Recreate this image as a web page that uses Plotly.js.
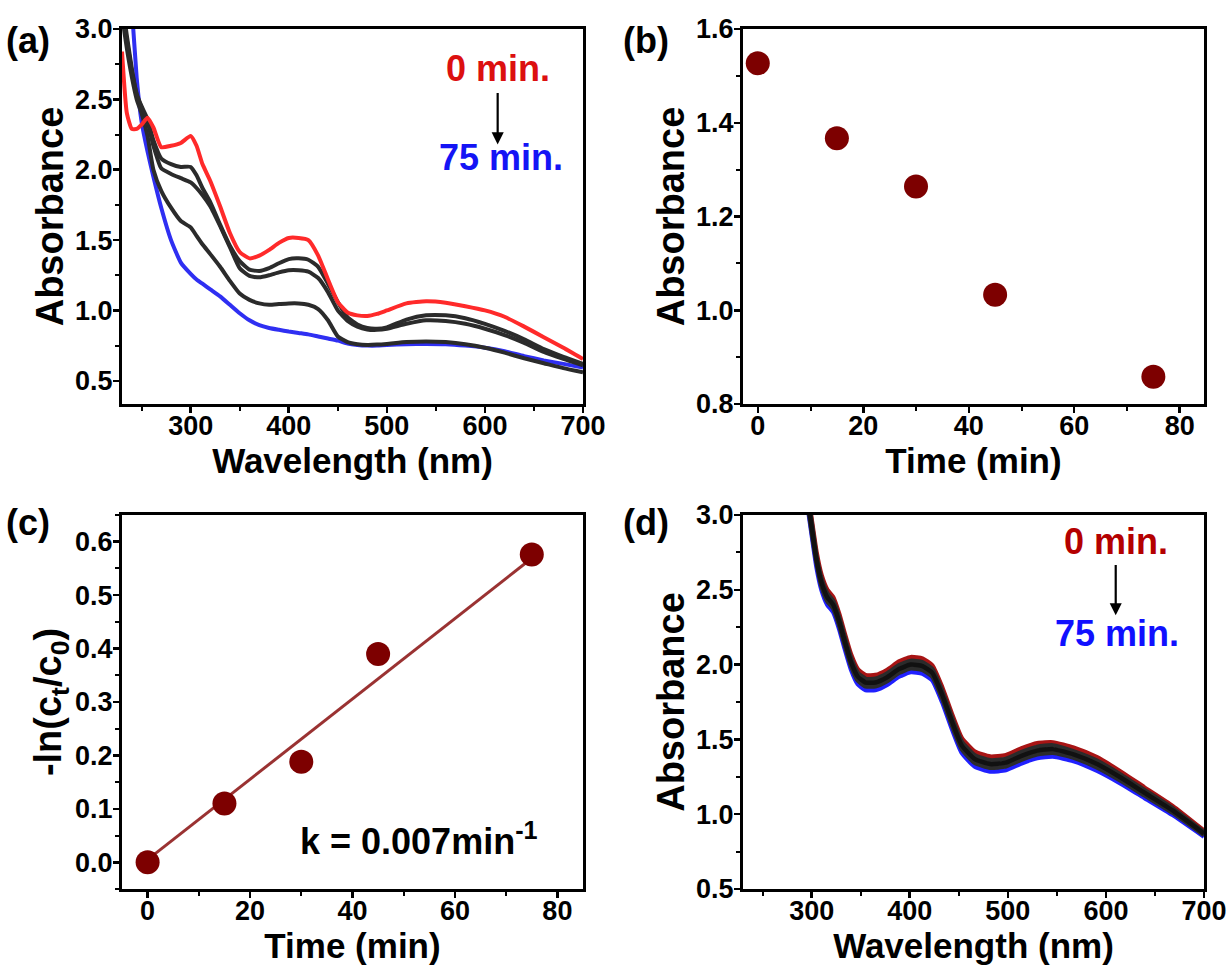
<!DOCTYPE html>
<html>
<head>
<meta charset="utf-8">
<script src="https://cdn.plot.ly/plotly-3.0.1.min.js"></script>
<style>html,body{margin:0;padding:0;background:#fff;}#chart{width:1231px;height:966px;}</style>
</head>
<body>
<div id="chart"></div>
<script>
// ---------- Panel (a): UV-vis spectra, photocatalysis ----------
const wavelengthA = [230,235,240,245,250,256,262,270,280,290,300,306,312,320,330,340,350,360,370,380,390,400,410,420,430,440,450,460,470,480,490,500,520,540,560,580,600,620,640,660,680,700];
const absA_0min  = [2.84,2.40,2.29,2.29,2.32,2.37,2.30,2.16,2.17,2.19,2.24,2.17,2.04,1.92,1.74,1.55,1.415,1.37,1.39,1.43,1.48,1.515,1.515,1.50,1.39,1.22,1.06,0.985,0.965,0.96,0.975,1.0,1.05,1.065,1.055,1.03,1.0,0.955,0.885,0.81,0.735,0.655];
const absA_15min = [3.15,2.92,2.70,2.54,2.45,2.36,2.21,2.08,2.04,2.02,2.02,1.96,1.87,1.77,1.61,1.46,1.35,1.29,1.28,1.30,1.335,1.365,1.37,1.36,1.31,1.19,1.06,0.95,0.90,0.875,0.87,0.88,0.935,0.965,0.965,0.945,0.905,0.855,0.795,0.725,0.67,0.62];
const absA_30min = [3.2,2.95,2.72,2.53,2.44,2.34,2.17,2.01,1.97,1.94,1.91,1.87,1.82,1.74,1.60,1.45,1.30,1.245,1.235,1.25,1.27,1.285,1.285,1.275,1.23,1.13,1.0,0.925,0.885,0.865,0.862,0.87,0.905,0.93,0.925,0.905,0.87,0.825,0.77,0.705,0.655,0.61];
const absA_45min = [3.1,2.86,2.66,2.50,2.40,2.24,2.0,1.85,1.73,1.635,1.59,1.53,1.47,1.40,1.31,1.21,1.12,1.075,1.05,1.04,1.045,1.05,1.05,1.04,1.01,0.93,0.815,0.775,0.76,0.755,0.757,0.762,0.775,0.78,0.775,0.76,0.735,0.70,0.66,0.625,0.59,0.56];
const absA_75min = [3.8,3.5,3.15,2.65,2.34,2.13,1.95,1.73,1.50,1.34,1.26,1.22,1.19,1.15,1.10,1.04,0.98,0.93,0.895,0.875,0.862,0.85,0.84,0.83,0.815,0.80,0.785,0.765,0.755,0.75,0.75,0.755,0.76,0.762,0.76,0.75,0.735,0.71,0.675,0.645,0.62,0.595];

// ---------- Panel (b): absorbance vs time ----------
const timeMin = [0,15,30,45,75];
const absB = [1.527,1.367,1.264,1.033,0.858];

// ---------- Panel (c): kinetics ----------
const lnRatio = [0,0.11,0.188,0.39,0.576];
const fitTime = [0,75];
const fitLn = [0.005,0.569];
const kLabel = 'k = 0.007min<sup>-1</sup>';

// ---------- Panel (d): UV-vis spectra, control ----------
const wavelengthD = [295,300,305,310,316,322,328,334,340,347,355,365,377,389,401,413,423,433,443,453,466,482,498,514,530,546,567,591,615,639,668,700];
const absD_0min  = [3.2,2.97,2.75,2.60,2.50,2.45,2.34,2.20,2.07,1.97,1.93,1.93,1.965,2.02,2.05,2.04,1.995,1.85,1.67,1.51,1.42,1.385,1.395,1.44,1.475,1.48,1.445,1.38,1.285,1.18,1.055,0.89];
const absD_15min = [3.17,2.95,2.72,2.575,2.475,2.425,2.315,2.175,2.045,1.945,1.905,1.905,1.94,1.995,2.025,2.015,1.97,1.825,1.645,1.485,1.395,1.36,1.37,1.415,1.45,1.46,1.42,1.357,1.265,1.163,1.04,0.88];
const absD_30min = [3.15,2.92,2.70,2.55,2.45,2.40,2.29,2.15,2.02,1.92,1.88,1.88,1.915,1.97,2.00,1.99,1.945,1.80,1.62,1.46,1.37,1.335,1.345,1.39,1.425,1.435,1.40,1.335,1.245,1.145,1.025,0.87];
const absD_45min = [3.12,2.89,2.68,2.525,2.425,2.375,2.265,2.125,1.995,1.895,1.855,1.855,1.89,1.945,1.975,1.965,1.92,1.775,1.595,1.435,1.345,1.31,1.32,1.365,1.40,1.41,1.378,1.313,1.225,1.127,1.01,0.86];
const absD_75min = [3.1,2.87,2.65,2.50,2.40,2.35,2.24,2.10,1.97,1.87,1.83,1.83,1.865,1.92,1.95,1.94,1.895,1.75,1.57,1.41,1.32,1.285,1.295,1.34,1.375,1.385,1.355,1.29,1.205,1.11,0.995,0.85];

// ---------- Text ----------
const panelLabels = ['(a)','(b)','(c)','(d)'];
const startLabel = '0 min.';
const endLabel = '75 min.';

const FAM = 'Liberation Sans, Arial, Helvetica, sans-serif';
const tickFont = {family: FAM, size: 27, color: '#000', weight: 'bold'};
const xTitleFont = {family: FAM, size: 35, color: '#000', weight: 'bold'};
const yTitleFont = {family: FAM, size: 38, color: '#000', weight: 'bold'};

function line(x, y, color, w, xa, ya) {
  return {type: 'scatter', mode: 'lines', x: x, y: y, xaxis: xa, yaxis: ya,
          line: {color: color, width: w, shape: 'spline', smoothing: 0.5}, hoverinfo: 'skip'};
}

const BLACK = '#2b2b2b';
const traces = [
  line(wavelengthA, absA_75min, '#2f2ff2', 4, 'x', 'y'),
  line(wavelengthA, absA_45min, BLACK, 4, 'x', 'y'),
  line(wavelengthA, absA_30min, BLACK, 4, 'x', 'y'),
  line(wavelengthA, absA_15min, BLACK, 4, 'x', 'y'),
  line(wavelengthA, absA_0min, '#ff2a2a', 4, 'x', 'y'),
  {type: 'scatter', mode: 'markers', x: timeMin, y: absB, xaxis: 'x2', yaxis: 'y2',
   marker: {size: 24, color: '#7d0000'}},
  {type: 'scatter', mode: 'lines', x: fitTime, y: fitLn, xaxis: 'x3', yaxis: 'y3',
   line: {color: '#9a3232', width: 3}},
  {type: 'scatter', mode: 'markers', x: timeMin, y: lnRatio, xaxis: 'x3', yaxis: 'y3',
   marker: {size: 24, color: '#7d0000'}},
  line(wavelengthD, absD_75min, '#2020ff', 4.5, 'x4', 'y4'),
  line(wavelengthD, absD_0min, '#a81414', 4.5, 'x4', 'y4'),
  line(wavelengthD, absD_45min, BLACK, 4.5, 'x4', 'y4'),
  line(wavelengthD, absD_15min, BLACK, 4.5, 'x4', 'y4'),
  line(wavelengthD, absD_30min, '#111', 4.5, 'x4', 'y4')
];

function axis(domain, range, dtick, minor, anchor, title, fmt, standoff, isY) {
  return {
    domain: domain, range: range, anchor: anchor, tick0: 0, dtick: dtick,
    showline: true, mirror: true, linewidth: 3, linecolor: '#000',
    ticks: 'outside', ticklen: 6, tickwidth: 2.5, tickcolor: '#000',
    ticklabelstandoff: isY ? -5 : -10,
    minor: {dtick: minor, ticks: 'outside', ticklen: 4, tickwidth: 2, tickcolor: '#000'},
    showgrid: false, zeroline: false, tickfont: tickFont, tickformat: fmt,
    title: {text: title, font: isY ? yTitleFont : xTitleFont, standoff: standoff}
  };
}

const LX = [122/1231, 583/1231], RX = [743/1231, 1204/1231];
const TY = [1-404/966, 1-29/966], BY = [1-889/966, 1-515/966];

const annFont = (c, s) => ({family: FAM, size: s, color: c, weight: 'bold'});
function panelLabel(txt, px, py) {
  return {xref:'paper', yref:'paper', x: px/1231, y: 1-py/966, xanchor:'center', yanchor:'middle',
          text: txt, showarrow:false, font: annFont('#000',36)};
}
const annotations = [
  panelLabel(panelLabels[0], 28, 40),
  panelLabel(panelLabels[1], 646, 40),
  panelLabel(panelLabels[2], 28, 522),
  panelLabel(panelLabels[3], 646, 522),
  // panel a: "0 min." with arrow pointing down to "75 min."
  {xref:'x', yref:'y', axref:'x', ayref:'y', ax: 613, ay: 2.716, x: 613, y: 2.18,
   text: startLabel, showarrow:true, arrowhead: 2, arrowsize: 1.1, arrowwidth: 2.2, arrowcolor:'#000',
   startstandoff: 2, font: annFont('#dc1010',36)},
  {xref:'x', yref:'y', x: 616, y: 2.084, text: endLabel, showarrow:false, font: annFont('#1414f5',36)},
  // panel c
  {xref:'x3', yref:'y3', x: 53, y: 0.043, text: kLabel, showarrow:false, font: annFont('#000',36)},
  // panel d
  {xref:'x4', yref:'y4', axref:'x4', ayref:'y4', ax: 610, ay: 2.826, x: 610, y: 2.33,
   text: startLabel, showarrow:true, arrowhead: 2, arrowsize: 1.1, arrowwidth: 2.2, arrowcolor:'#000',
   startstandoff: 2, font: annFont('#b40000',36)},
  {xref:'x4', yref:'y4', x: 611, y: 2.211, text: endLabel, showarrow:false, font: annFont('#1010ff',36)}
];

const layout = {
  width: 1231, height: 966, margin: {l:0, r:0, t:0, b:0},
  paper_bgcolor: '#fff', plot_bgcolor: '#fff', showlegend: false,
  xaxis:  axis(LX, [230,700], 100, 50, 'y',  'Wavelength (nm)', '', 4, false),
  yaxis:  axis(TY, [0.335,3.0], 0.5, 0.25, 'x', 'Absorbance', '.1f', 0, true),
  xaxis2: axis(RX, [-2.8,84.6], 20, 10, 'y2', 'Time (min)', '', 4, false),
  yaxis2: axis(TY, [0.8,1.6], 0.2, 0.1, 'x2', 'Absorbance', '.1f', 0, true),
  xaxis3: axis(LX, [-5,85], 20, 10, 'y3', 'Time (min)', '', 4, false),
  yaxis3: axis(BY, [-0.05,0.65], 0.1, 0.05, 'x3', '-ln(c<sub>t</sub>/c<sub>0</sub>)', '.1f', 2, true),
  xaxis4: axis(RX, [230,700], 100, 50, 'y4', 'Wavelength (nm)', '', 4, false),
  yaxis4: axis(BY, [0.5,3.0], 0.5, 0.25, 'x4', 'Absorbance', '.1f', 0, true),
  annotations: annotations
};

Plotly.newPlot('chart', traces, layout, {staticPlot: true, displayModeBar: false});
</script>
</body>
</html>
